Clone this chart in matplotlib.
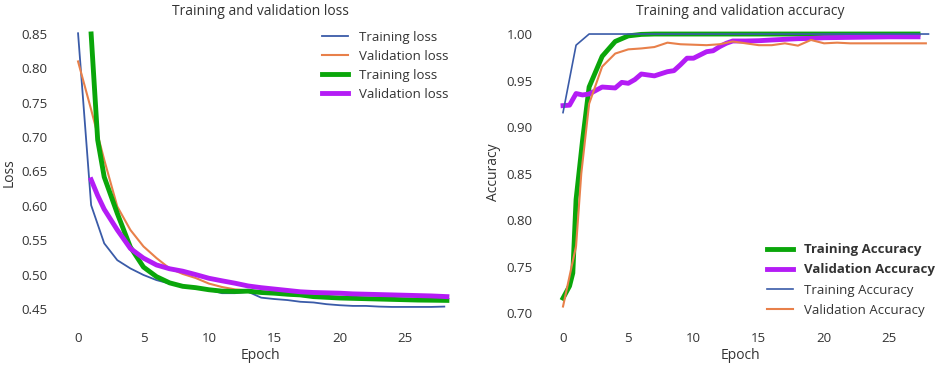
import matplotlib
matplotlib.use('Agg')
import matplotlib.pyplot as plt

# loss panel
loss_epochs = list(range(0, 29))
train_loss = [0.851, 0.601, 0.5455, 0.521, 0.509, 0.4995, 0.492, 0.487, 0.483, 0.481,
              0.478, 0.473, 0.473, 0.475, 0.4665, 0.4645, 0.463, 0.4605, 0.4595, 0.457,
              0.4555, 0.4545, 0.4545, 0.4535, 0.453, 0.453, 0.453, 0.453, 0.4535]
val_loss = [0.81, 0.74, 0.667, 0.599, 0.565, 0.541, 0.524, 0.509, 0.501, 0.495,
            0.487, 0.482, 0.4785, 0.477, 0.475, 0.473, 0.4705, 0.469, 0.468, 0.467,
            0.466, 0.4655, 0.465, 0.4645, 0.464, 0.4635, 0.4633, 0.463, 0.463]

smooth_loss_epochs = [1, 1.5, 2, 3, 4, 5, 6, 7, 8, 9, 10, 11, 12, 13, 14, 15, 16, 17, 18,
                      19, 20, 21, 22, 23, 24, 25, 26, 27, 28.2]
smooth_train_loss = [0.85, 0.696, 0.642, 0.589, 0.54, 0.511, 0.497, 0.488, 0.483, 0.481,
                     0.478, 0.476, 0.4755, 0.476, 0.474, 0.473, 0.4715, 0.4705, 0.468,
                     0.467, 0.466, 0.4655, 0.465, 0.4645, 0.464, 0.4635, 0.463, 0.4628, 0.4625]
smooth_val_loss = [0.638, 0.615, 0.595, 0.565, 0.538, 0.524, 0.514, 0.5085, 0.505, 0.5,
                   0.4947, 0.491, 0.4875, 0.4835, 0.481, 0.479, 0.477, 0.475, 0.474,
                   0.4735, 0.473, 0.472, 0.4715, 0.471, 0.4705, 0.470, 0.4695, 0.469, 0.468]

# accuracy panel
acc_epochs = list(range(0, 29))
train_acc = [0.9155, 0.988, 1.0, 1.0, 1.0, 1.0, 1.0, 1.0, 1.0, 1.0, 1.0, 1.0, 1.0, 1.0,
             1.0, 1.0, 1.0, 1.0, 1.0, 1.0, 1.0, 1.0, 1.0, 1.0, 1.0, 1.0, 1.0, 1.0, 1.0]
val_acc_epochs = [0, 1, 1.4, 2, 3, 4, 5, 6, 7, 8, 9, 10, 11, 12, 13, 14, 15, 16, 17, 18,
                  19, 20, 21, 22, 23, 24, 25, 26, 27.8]
val_acc = [0.707, 0.772, 0.85, 0.925, 0.965, 0.979, 0.9835, 0.9845, 0.986, 0.9907, 0.989,
           0.9885, 0.988, 0.989, 0.992, 0.990, 0.988, 0.988, 0.990, 0.9875, 0.9936, 0.990,
           0.9907, 0.990, 0.990, 0.990, 0.990, 0.990, 0.990]

smooth_acc_epochs = [0, 0.5, 0.75, 1, 1.5, 2, 3, 4, 5, 6, 7, 8, 10, 12, 14, 16, 18, 20,
                     22, 24, 26, 27.2]
smooth_train_acc = [0.716, 0.729, 0.743, 0.822, 0.886, 0.943, 0.976, 0.992, 0.998, 0.9996,
                    1.0, 1.0, 1.0, 1.0, 1.0, 1.0, 1.0, 1.0, 1.0, 1.0, 1.0, 1.0]
smooth_val_epochs = [0, 0.5, 1, 1.5, 2, 3, 4, 4.5, 5, 5.5, 6, 6.5, 7, 8, 8.5, 9, 9.5, 10,
                     10.5, 11, 11.5, 12, 12.5, 13, 14, 15, 16, 17, 18, 19, 20, 22, 25, 27.2]
smooth_val_acc = [0.923, 0.9235, 0.936, 0.9345, 0.9355, 0.943, 0.942, 0.948, 0.947, 0.951,
                  0.957, 0.956, 0.955, 0.9595, 0.9606, 0.967, 0.974, 0.974, 0.9775, 0.981,
                  0.982, 0.9864, 0.99, 0.9925, 0.9925, 0.9928, 0.9936, 0.9943, 0.995,
                  0.9953, 0.996, 0.9964, 0.997, 0.997]

BLUE = '#3a5ba8'
ORANGE = '#e8804a'
GREEN = '#0aa60a'
PURPLE = '#b41cf5'
TEXT = '#333333'

plt.rcParams['font.family'] = ['Open Sans', 'DejaVu Sans']
plt.rcParams['font.size'] = 9

fig = plt.figure(figsize=(9.41, 3.65), dpi=100)
ax1 = fig.add_axes([60 / 941, 45 / 365, 400 / 941, 295 / 365])
ax2 = fig.add_axes([545 / 941, 45 / 365, 390 / 941, 295 / 365])

ax1.plot(loss_epochs, train_loss, color=BLUE, lw=1.3, label='Training loss')
ax1.plot(loss_epochs, val_loss, color=ORANGE, lw=1.5, label='Validation loss')
ax1.plot(smooth_loss_epochs, smooth_train_loss, color=GREEN, lw=3.5, label='Training loss')
ax1.plot(smooth_loss_epochs, smooth_val_loss, color=PURPLE, lw=3.5, label='Validation loss')
ax1.set_xlim(-1.38, 29.2)
ax1.set_ylim(0.434, 0.863)
ax1.set_xticks([0, 5, 10, 15, 20, 25])
ax1.set_yticks([0.45, 0.50, 0.55, 0.60, 0.65, 0.70, 0.75, 0.80, 0.85])
ax1.set_title('Training and validation loss', color=TEXT, fontsize=10, pad=7)
ax1.set_xlabel('Epoch', color=TEXT, fontsize=10, labelpad=1.5)
ax1.set_ylabel('Loss', color=TEXT, fontsize=10, labelpad=3)
leg1 = ax1.legend(loc='upper right', frameon=False, fontsize=9.5, handlelength=2.0,
                  labelspacing=0.45, bbox_to_anchor=(1.0, 1.02))

ax2.plot(smooth_acc_epochs, smooth_train_acc, color=GREEN, lw=3.5, label='Training Accuracy')
ax2.plot(smooth_val_epochs, smooth_val_acc, color=PURPLE, lw=3.5, label='Validation Accuracy')
ax2.plot(acc_epochs, train_acc, color=BLUE, lw=1.2, label='Training Accuracy')
ax2.plot(val_acc_epochs, val_acc, color=ORANGE, lw=1.5, label='Validation Accuracy')
ax2.set_xlim(-1.38, 28.5)
ax2.set_ylim(0.6925, 1.0097)
ax2.set_xticks([0, 5, 10, 15, 20, 25])
ax2.set_yticks([0.70, 0.75, 0.80, 0.85, 0.90, 0.95, 1.00])
ax2.set_title('Training and validation accuracy', color=TEXT, fontsize=10, pad=7)
ax2.set_xlabel('Epoch', color=TEXT, fontsize=10, labelpad=1.5)
ax2.set_ylabel('Accuracy', color=TEXT, fontsize=10, labelpad=4)
leg2 = ax2.legend(loc='lower right', frameon=False, fontsize=9.5, handlelength=2.0,
                  labelspacing=0.55, bbox_to_anchor=(1.03, -0.03))
for t in leg2.get_texts()[:2]:
    t.set_fontweight('bold')

for ax in (ax1, ax2):
    for s in ax.spines.values():
        s.set_visible(False)
    ax.tick_params(length=0, colors=TEXT, labelsize=9.5, pad=9)
    ax.set_facecolor('white')
for leg in (leg1, leg2):
    for t in leg.get_texts():
        t.set_color(TEXT)

fig.savefig('out.png', dpi=100, facecolor='white')
